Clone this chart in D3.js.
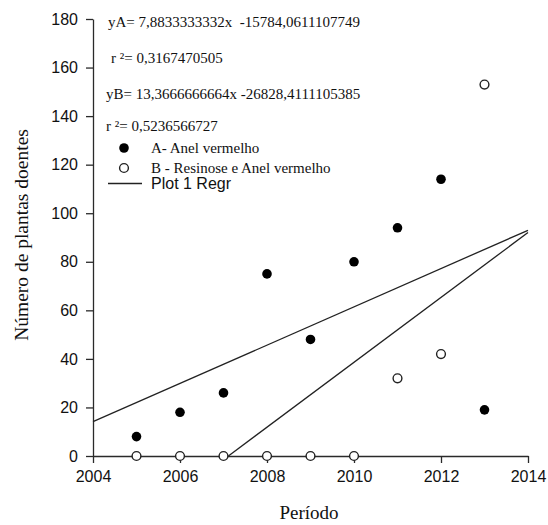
<!DOCTYPE html>
<html>
<head>
<meta charset="utf-8">
<script src="https://cdn.jsdelivr.net/npm/d3@7"></script>
<style>
  html, body { margin: 0; padding: 0; background: #fff; }
  svg { display: block; }
</style>
</head>
<body>
<svg id="chart" width="548" height="525"></svg>
<script>
// ---- data ----
const years = [2005, 2006, 2007, 2008, 2009, 2010, 2011, 2012, 2013];
const seriesA = [8, 18, 26, 75, 48, 80, 94, 114, 19];   // A- Anel vermelho
const seriesB = [0, 0, 0, 0, 0, 0, 32, 42, 153];        // B - Resinose e Anel vermelho
const regA = [7.8833333332, -15784.0611107749];          // slope, intercept
const regB = [13.3666666664, -26828.4111105385];
const xTicks = [2004, 2006, 2008, 2010, 2012, 2014];
const yTicks = [0, 20, 40, 60, 80, 100, 120, 140, 160, 180];
const annotations = [
  "yA= 7,8833333332x  -15784,0611107749",
  "r \u00b2= 0,3167470505",
  "yB= 13,3666666664x -26828,4111105385",
  "r \u00b2= 0,5236566727"
];
const legendLabels = ["A- Anel vermelho", "B - Resinose e Anel vermelho", "Plot 1 Regr"];
const xLabel = "Período";
const yLabel = "Número de plantas doentes";

// ---- layout ----
const svg = d3.select("#chart");
const x = d3.scaleLinear().domain([2004, 2014]).range([93, 528]);
const y = d3.scaleLinear().domain([0, 180]).range([456, 19]);
const axisColor = "#2a2a2a";
const serif = "'Liberation Serif', 'Times New Roman', serif";
const sans = "'Liberation Sans', Arial, sans-serif";

// axes
const xAxis = svg.append("g").attr("transform", `translate(0,${y(0)})`)
  .call(d3.axisBottom(x).tickValues(xTicks).tickFormat(d3.format("d")).tickSizeInner(7).tickSizeOuter(0).tickPadding(4));
const yAxis = svg.append("g").attr("transform", `translate(${x(2004)},0)`)
  .call(d3.axisLeft(y).tickValues(yTicks).tickSizeInner(7).tickSizeOuter(0).tickPadding(8));
[xAxis, yAxis].forEach(g => {
  g.selectAll("path.domain").attr("stroke", axisColor).attr("stroke-width", 1.3);
  g.selectAll(".tick line").attr("stroke", axisColor).attr("stroke-width", 1.3);
  g.selectAll(".tick text").attr("fill", "#111").style("font-family", sans).style("font-size", "16px");
});
xAxis.selectAll(".tick text").attr("dy", "0.95em");

// axis titles
svg.append("text").attr("x", 309).attr("y", 519).attr("text-anchor", "middle")
  .style("font-family", serif).style("font-size", "19px").attr("fill", "#111").text(xLabel);
svg.append("text").attr("transform", `translate(28,235) rotate(-90)`).attr("text-anchor", "middle")
  .style("font-family", serif).style("font-size", "19.5px").attr("fill", "#111").text(yLabel);

// regression lines
const lineGen = d3.line().x(d => x(d[0])).y(d => y(d[1]));
[regA, regB].forEach(r => {
  const [m, b] = r;
  const x0 = Math.max(2004, -b / m);
  const pts = [[x0, m * x0 + b], [2014, m * 2014 + b]];
  svg.append("path").attr("d", lineGen(pts)).attr("fill", "none")
    .attr("stroke", "#222").attr("stroke-width", 1.3);
});

// points
const rad = 4.8;
svg.append("g").selectAll("circle").data(years.map((yr, i) => [yr, seriesA[i]])).join("circle")
  .attr("cx", d => x(d[0])).attr("cy", d => y(d[1])).attr("r", rad).attr("fill", "#000");
svg.append("g").selectAll("circle").data(years.map((yr, i) => [yr, seriesB[i]])).join("circle")
  .attr("cx", d => x(d[0])).attr("cy", d => y(d[1])).attr("r", rad - 0.4)
  .attr("fill", "#fff").attr("stroke", "#222").attr("stroke-width", 1.4);

// annotations
const annX = [108, 111, 106, 106];
const annY = [27, 63, 99, 131];
annotations.forEach((t, i) => {
  svg.append("text").attr("x", annX[i]).attr("y", annY[i])
    .style("font-family", serif).style("font-size", "15px").attr("fill", "#111")
    .attr("xml:space", "preserve").style("white-space", "pre").text(t);
});

// legend
const leg = svg.append("g");
leg.append("circle").attr("cx", 124).attr("cy", 148).attr("r", rad).attr("fill", "#000");
leg.append("circle").attr("cx", 124).attr("cy", 168).attr("r", rad - 0.4)
  .attr("fill", "#fff").attr("stroke", "#222").attr("stroke-width", 1.4);
leg.append("line").attr("x1", 108).attr("x2", 142).attr("y1", 183.5).attr("y2", 183.5)
  .attr("stroke", "#222").attr("stroke-width", 1.3);
const legY = [148, 168, 183.5];
legendLabels.forEach((t, i) => {
  leg.append("text").attr("x", 151).attr("y", legY[i]).attr("dy", "0.35em")
    .style("font-family", i < 2 ? serif : sans).style("font-size", i < 2 ? "15px" : "16px")
    .attr("fill", "#111").text(t);
});
</script>
</body>
</html>
